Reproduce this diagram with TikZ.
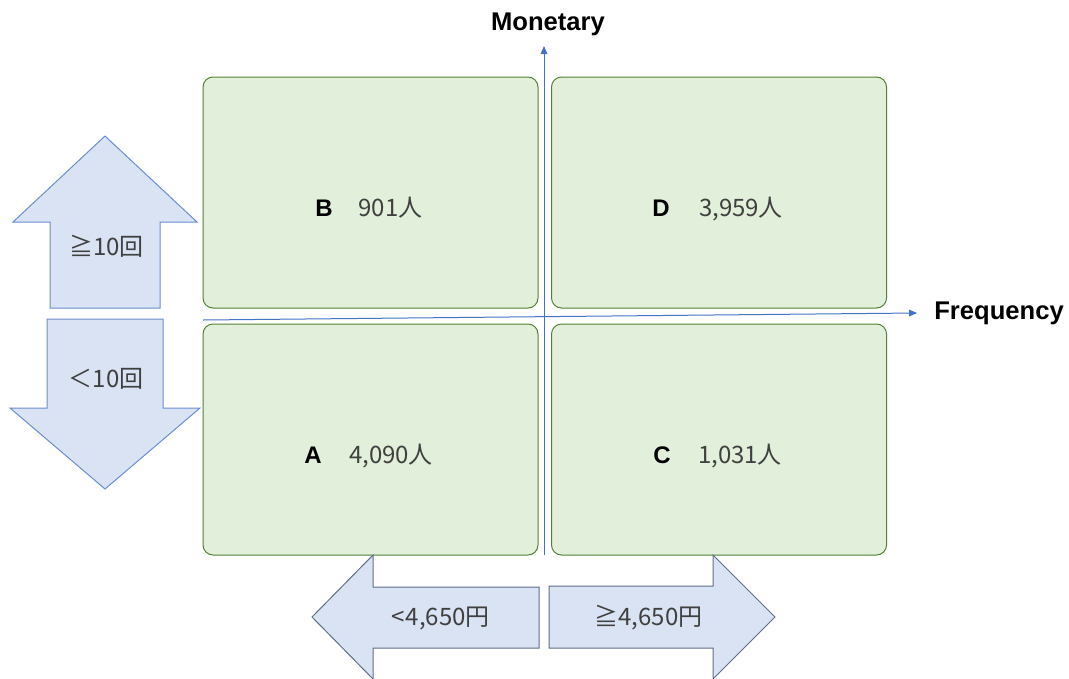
\documentclass[tikz,border=0pt]{standalone}
\usepackage{fontspec}
\setmainfont{Liberation Sans}
\newfontfamily\jp{Noto Sans CJK JP}
\usetikzlibrary{arrows.meta}
\definecolor{boxfill}{HTML}{E2EFDA}
\definecolor{boxline}{HTML}{548235}
\definecolor{arrfill}{HTML}{DAE3F3}
\definecolor{varrline}{HTML}{6A8ED2}
\definecolor{harrline}{HTML}{5F6E8C}
\definecolor{axisblue}{HTML}{4472C4}
\definecolor{numgray}{HTML}{404040}
\begin{document}
\begin{tikzpicture}[x=0.75pt,y=-0.75pt,
  quad/.style={draw=boxline, fill=boxfill, line width=0.75pt, rounded corners=7.5pt,
    minimum width=251.25pt, minimum height=173.25pt, inner sep=0pt},
  vshape/.style={draw=varrline, fill=arrfill, line width=0.75pt, line join=miter},
  hshape/.style={draw=harrline, fill=arrfill, line width=0.75pt, line join=miter},
  axisline/.style={draw=axisblue, line width=0.75pt, -{Triangle[length=6pt,width=5pt]}},
  letter/.style={font=\bfseries\fontsize{18}{20}\selectfont, text=black, anchor=base, inner sep=0pt},
  num/.style={font=\jp\fontsize{18}{20}\selectfont, text=numgray, anchor=base, inner sep=0pt},
  axlabel/.style={font=\bfseries\fontsize{19.2}{21}\selectfont, text=black, anchor=base, inner sep=0pt}]
\useasboundingbox (0,0) rectangle (1069,678);
% quadrants
\node[quad] (B) at (370.5,192.5) {};
\node[quad] (D) at (719,192.5) {};
\node[quad] (A) at (370.5,439.5) {};
\node[quad] (C) at (719,439.5) {};
% axes
\coordinate (hs) at (203,320);
\coordinate (he) at (917,313);
\coordinate (vs) at (544,555);
\coordinate (ve) at (544,46);
\draw[axisline] (hs) -- (he);
\draw[axisline] (vs) -- (ve);
\node[axlabel] (mon) at (548,31) {Monetary};
\node[axlabel] (freq) at (999,319) {Frequency};
% quadrant labels
\node[letter] (Bl) at (324,216) {B};
\node[num] (Bn) at (390.5,216) {901人};
\node[letter] (Dl) at (661,216) {D};
\node[num] (Dn) at (741,216) {3,959人};
\node[letter] (Al) at (313,463) {A};
\node[num] (An) at (391,463) {4,090人};
\node[letter] (Cl) at (662,463) {C};
\node[num] (Cn) at (740,463) {1,031人};
% vertical arrows
\draw[vshape] (105,136) -- (197,222) -- (160,222) -- (160,308) -- (50,308) -- (50,222) -- (13,222) -- cycle;
\draw[vshape] (47,319) -- (163,319) -- (163,408) -- (200,408) -- (105,489) -- (10,408) -- (47,408) -- cycle;
\node[num] (up) at (106.5,255) {≧10回};
\node[num] (down) at (106,387) {＜10回};
% horizontal arrows
\draw[hshape] (312,617) -- (373,555) -- (373,587) -- (539,587) -- (539,648) -- (373,648) -- (373,679) -- cycle;
\draw[hshape] (775,617) -- (713,555) -- (713,586) -- (549,586) -- (549,648) -- (713,648) -- (713,679) -- cycle;
\node[num] (left) at (440.5,625) {<\kern1pt4,650円};
\node[num] (right) at (648.5,625) {≧4,650円};
\end{tikzpicture}
\end{document}
